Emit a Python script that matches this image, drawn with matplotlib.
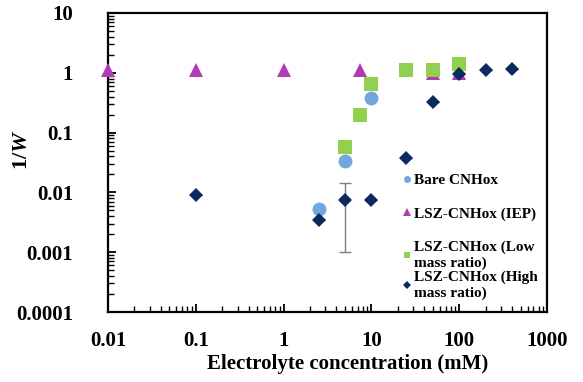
import numpy as np
import matplotlib
matplotlib.use("Agg")
import matplotlib.pyplot as plt
from matplotlib.ticker import LogLocator, NullFormatter

# data (x in mM, y = 1/W)
bare_x = [2.5, 5, 10]
bare_y = [0.0052, 0.034, 0.38]

iep_x = [0.01, 0.1, 1, 7.5, 25, 50, 100]
iep_y = [1.12, 1.12, 1.12, 1.1, 1.12, 1.0, 1.0]

low_x = [5, 7.5, 10, 25, 50, 100]
low_y = [0.057, 0.2, 0.65, 1.1, 1.1, 1.4]

high_x = [0.1, 2.5, 5, 10, 25, 50, 100, 200, 400]
high_y = [0.0091, 0.0034, 0.0075, 0.0075, 0.037, 0.33, 0.95, 1.12, 1.15]
high_err_lo = [0, 0, 0.0065, 0, 0, 0, 0, 0, 0]
high_err_hi = [0, 0, 0.0069, 0, 0, 0, 0, 0, 0]

x_ticks = [0.01, 0.1, 1, 10, 100, 1000]
x_labels = ["0.01", "0.1", "1", "10", "100", "1000"]
y_ticks = [0.0001, 0.001, 0.01, 0.1, 1, 10]
y_labels = ["0.0001", "0.001", "0.01", "0.1", "1", "10"]

plt.rcParams['font.family'] = ['Liberation Serif', 'DejaVu Serif']
plt.rcParams['font.weight'] = 'bold'
plt.rcParams['mathtext.fontset'] = 'custom'
plt.rcParams['mathtext.rm'] = 'Liberation Serif:bold'
plt.rcParams['mathtext.it'] = 'Liberation Serif:italic:bold'

fig = plt.figure(figsize=(5.83, 3.82), dpi=100)
ax = fig.add_axes([0.1852, 0.1832, 0.7531, 0.7828])

ax.errorbar(high_x, high_y, yerr=[high_err_lo, high_err_hi], fmt='none',
            ecolor='#7f7f7f', elinewidth=1, capsize=4, zorder=1)
h1, = ax.plot(bare_x, bare_y, 'o', color='#6fa8dc', ms=10, mew=0, zorder=2)
h2, = ax.plot(iep_x, iep_y, '^', color='#b03cb3', ms=10.5, mew=0, zorder=3, clip_on=False)
h3, = ax.plot(low_x, low_y, 's', color='#92d050', ms=9.5, mew=0, zorder=4)
h4, = ax.plot(high_x, high_y, 'D', color='#0c2a60', ms=7.5, mew=0, zorder=5, clip_on=False)

ax.set_xscale('log')
ax.set_yscale('log')
ax.set_xlim(0.01, 1000)
ax.set_ylim(0.0001, 10)

ax.set_xticks(x_ticks)
ax.set_xticklabels(x_labels)
ax.set_yticks(y_ticks)
ax.set_yticklabels(y_labels)
ax.xaxis.set_minor_locator(LogLocator(base=10, subs=np.arange(2, 10)))
ax.yaxis.set_minor_locator(LogLocator(base=10, subs=np.arange(2, 10)))
ax.xaxis.set_minor_formatter(NullFormatter())
ax.yaxis.set_minor_formatter(NullFormatter())

ax.tick_params(which='major', direction='in', length=6, width=1.3, labelsize=15)
ax.tick_params(axis='x', which='major', pad=14)
ax.tick_params(axis='y', which='major', pad=25)
ax.tick_params(which='minor', direction='in', length=4, width=1.0)
for s in ax.spines.values():
    s.set_linewidth(1.6)

ax.set_xlabel('Electrolyte concentration (mM)', fontsize=15, fontweight='bold')
ax.xaxis.set_label_coords(0.545, -0.14, transform=ax.transAxes)
ax.set_ylabel(r'1/$\mathit{W}$', fontsize=16, fontweight='bold')
ax.yaxis.set_label_coords(-0.172, 0.542, transform=ax.transAxes)

# Excel-style legend: first three entries, then the last one squeezed below
leg_kw = dict(frameon=False, fontsize=11, handlelength=0.4, handletextpad=0.2,
              markerscale=0.5, borderaxespad=0.0, borderpad=0.0)
leg1 = ax.legend([h1, h2, h3], ['Bare CNHox', 'LSZ-CNHox (IEP)', 'LSZ-CNHox (Low\nmass ratio)'],
                 loc='upper left', bbox_to_anchor=(0.675, 0.463), labelspacing=1.3, **leg_kw)
ax.add_artist(leg1)
leg2 = ax.legend([h4], ['LSZ-CNHox (High\nmass ratio)'],
                 loc='upper left', bbox_to_anchor=(0.675, 0.138), **leg_kw)
for leg in (leg1, leg2):
    for t in leg.get_texts():
        t.set_fontweight('bold')
        t.set_linespacing(1.2)

fig.savefig('out.png', dpi=100)
